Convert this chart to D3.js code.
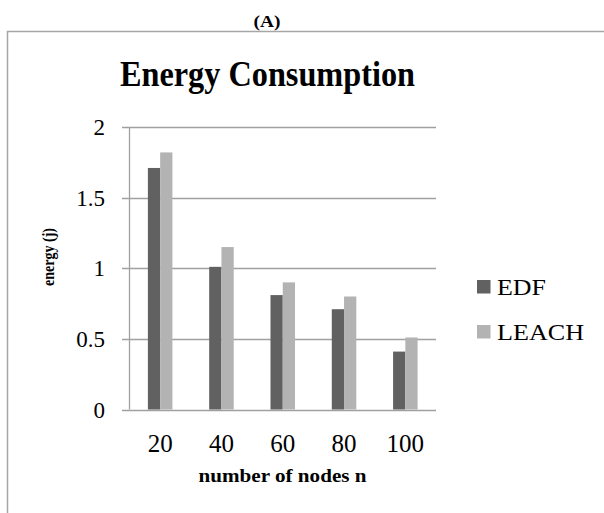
<!DOCTYPE html>
<html><head><meta charset="utf-8">
<script src="https://cdn.jsdelivr.net/npm/d3@7/dist/d3.min.js"></script>
<style>body{margin:0;background:#fff}svg{display:block}text{font-family:"Liberation Serif","Times New Roman",serif;fill:#000}</style>
</head><body>
<script>
const categories = ["20","40","60","80","100"];
const seriesNames = ["EDF","LEACH"];
const edf = [1.71,1.01,0.81,0.71,0.41];
const leach = [1.82,1.15,0.90,0.80,0.51];
const yTicks = [0,0.5,1,1.5,2];
const colors = ["#616161","#b3b3b3"];

const W=604,H=513;
const svg=d3.select("body").append("svg").attr("width",W).attr("height",H);

// frame (left and top only)
svg.append("path").attr("d",`M7.5,${H} L7.5,31.5 L${W},31.5`).attr("fill","none").attr("stroke","#a6a6a6").attr("stroke-width",1.5);

svg.append("text").attr("x",267).attr("y",27).attr("text-anchor","middle").attr("font-weight","bold").attr("font-size",17).attr("textLength",27).attr("lengthAdjust","spacingAndGlyphs").text("(A)");
svg.append("text").attr("x",267.5).attr("y",86).attr("text-anchor","middle").attr("font-weight","bold").attr("font-size",35).attr("textLength",295).attr("lengthAdjust","spacingAndGlyphs").text("Energy Consumption");

const x0=d3.scaleBand().domain(categories).range([129.5,436]).paddingInner(0.6).paddingOuter(0.3);
const x1=d3.scaleBand().domain(seriesNames).range([0,x0.bandwidth()]);
const y=d3.scaleLinear().domain([0,2]).range([409.5,127]);

// gridlines
svg.append("g").selectAll("line").data(yTicks).join("line")
  .attr("x1",122).attr("x2",436).attr("y1",d=>Math.round(y(d))+0.5).attr("y2",d=>Math.round(y(d))+0.5)
  .attr("stroke","#a0a0a0").attr("stroke-width",1.3);
// y axis line
svg.append("line").attr("x1",129.5).attr("x2",129.5).attr("y1",127).attr("y2",409.5).attr("stroke","#a0a0a0").attr("stroke-width",1.3);

// y tick labels
svg.append("g").selectAll("text").data(yTicks).join("text")
  .attr("x",105).attr("y",d=>y(d)+8).attr("text-anchor","end").attr("font-size",23).text(d=>d);

// bars
const data=categories.map((c,i)=>({c,vals:[edf[i],leach[i]]}));
const g=svg.append("g").selectAll("g").data(data).join("g").attr("transform",d=>`translate(${x0(d.c)},0)`);
g.selectAll("rect").data(d=>d.vals.map((v,j)=>({k:seriesNames[j],v,j}))).join("rect")
  .attr("x",d=>x1(d.k)).attr("width",x1.bandwidth()).attr("y",d=>y(d.v)).attr("height",d=>y(0)-y(d.v))
  .attr("fill",d=>colors[d.j]);

// x tick labels
svg.append("g").selectAll("text").data(categories).join("text")
  .attr("x",d=>x0(d)+x0.bandwidth()/2).attr("y",452).attr("text-anchor","middle").attr("font-size",25).text(d=>d);

// axis titles
svg.append("text").attr("x",282.5).attr("y",482).attr("text-anchor","middle").attr("font-weight","bold").attr("font-size",19).attr("textLength",168).attr("lengthAdjust","spacingAndGlyphs").text("number of nodes n");
svg.append("text").attr("transform","translate(54,257) rotate(-90)").attr("text-anchor","middle").attr("font-weight","bold").attr("font-size",16).attr("textLength",58).attr("lengthAdjust","spacingAndGlyphs").text("energy (j)");

// legend
const legendWidths=[49,87];
const lg=svg.append("g").selectAll("g").data(seriesNames).join("g").attr("transform",(d,i)=>`translate(477,${280+i*45})`);
lg.append("rect").attr("width",13.5).attr("height",13.5).attr("fill",(d,i)=>colors[i]);
lg.append("text").attr("x",20).attr("y",15).attr("font-size",24).attr("textLength",(d,i)=>legendWidths[i]).attr("lengthAdjust","spacingAndGlyphs").text(d=>d);
</script>
</body></html>
